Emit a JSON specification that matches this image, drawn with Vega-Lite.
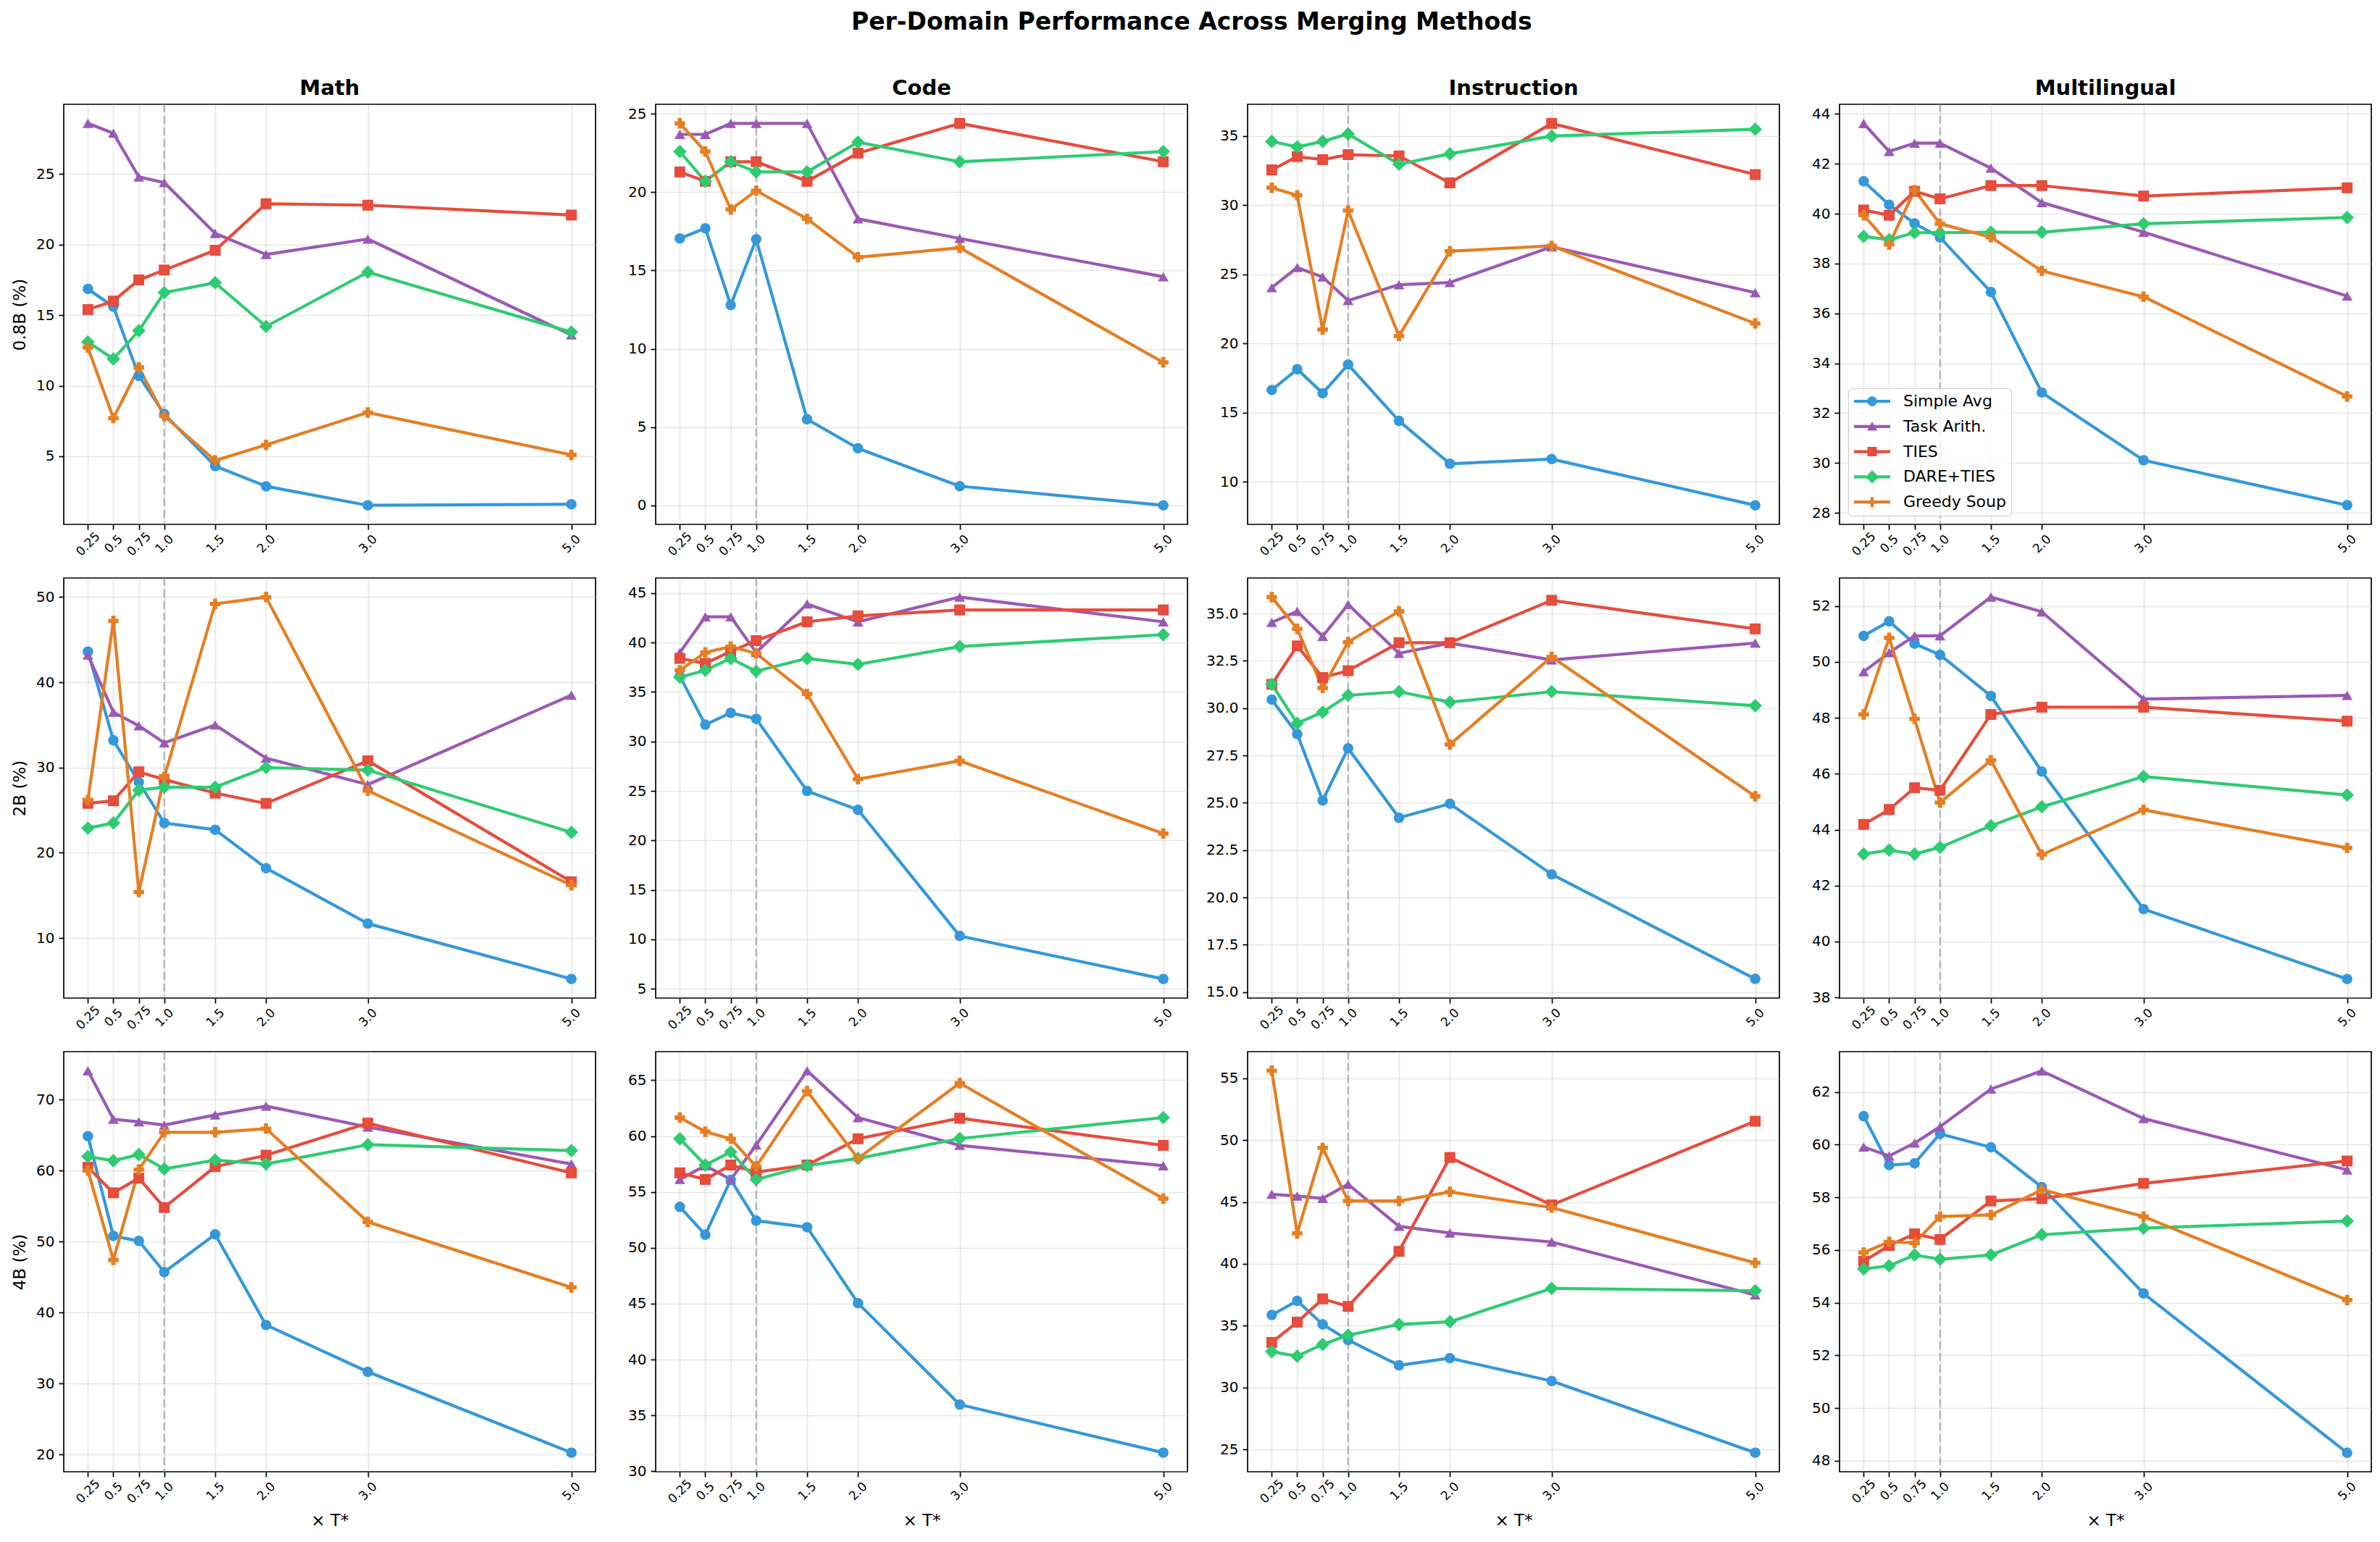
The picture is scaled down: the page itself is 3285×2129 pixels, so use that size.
{
  "$schema": "https://vega.github.io/schema/vega-lite/v6.json",
  "background": "white",
  "padding": {"top": 14, "left": 15, "right": 10, "bottom": 10},
  "title": {
    "text": "Per-Domain Performance Across Merging Methods",
    "fontSize": 33,
    "fontWeight": "bold",
    "font": "DejaVu Sans",
    "color": "black",
    "anchor": "middle",
    "frame": "bounds",
    "offset": 59
  },
  "datasets": {
    "math_08b": [
      {"method": "Simple Avg", "t": 0.25, "score": 16.86}, {"method": "Simple Avg", "t": 0.5, "score": 15.6}, {"method": "Simple Avg", "t": 0.75, "score": 10.7}, {"method": "Simple Avg", "t": 1.0, "score": 7.99}, {"method": "Simple Avg", "t": 1.5, "score": 4.3}, {"method": "Simple Avg", "t": 2.0, "score": 2.87}, {"method": "Simple Avg", "t": 3.0, "score": 1.52}, {"method": "Simple Avg", "t": 5.0, "score": 1.6},
      {"method": "Task Arith.", "t": 0.25, "score": 28.6}, {"method": "Task Arith.", "t": 0.5, "score": 27.9}, {"method": "Task Arith.", "t": 0.75, "score": 24.8}, {"method": "Task Arith.", "t": 1.0, "score": 24.4}, {"method": "Task Arith.", "t": 1.5, "score": 20.8}, {"method": "Task Arith.", "t": 2.0, "score": 19.3}, {"method": "Task Arith.", "t": 3.0, "score": 20.4}, {"method": "Task Arith.", "t": 5.0, "score": 13.6},
      {"method": "TIES", "t": 0.25, "score": 15.4}, {"method": "TIES", "t": 0.5, "score": 16.0}, {"method": "TIES", "t": 0.75, "score": 17.5}, {"method": "TIES", "t": 1.0, "score": 18.2}, {"method": "TIES", "t": 1.5, "score": 19.6}, {"method": "TIES", "t": 2.0, "score": 22.9}, {"method": "TIES", "t": 3.0, "score": 22.8}, {"method": "TIES", "t": 5.0, "score": 22.1},
      {"method": "DARE+TIES", "t": 0.25, "score": 13.1}, {"method": "DARE+TIES", "t": 0.5, "score": 11.9}, {"method": "DARE+TIES", "t": 0.75, "score": 13.9}, {"method": "DARE+TIES", "t": 1.0, "score": 16.6}, {"method": "DARE+TIES", "t": 1.5, "score": 17.3}, {"method": "DARE+TIES", "t": 2.0, "score": 14.2}, {"method": "DARE+TIES", "t": 3.0, "score": 18.05}, {"method": "DARE+TIES", "t": 5.0, "score": 13.8},
      {"method": "Greedy Soup", "t": 0.25, "score": 12.7}, {"method": "Greedy Soup", "t": 0.5, "score": 7.7}, {"method": "Greedy Soup", "t": 0.75, "score": 11.3}, {"method": "Greedy Soup", "t": 1.0, "score": 7.85}, {"method": "Greedy Soup", "t": 1.5, "score": 4.7}, {"method": "Greedy Soup", "t": 2.0, "score": 5.8}, {"method": "Greedy Soup", "t": 3.0, "score": 8.1}, {"method": "Greedy Soup", "t": 5.0, "score": 5.1}
    ],
    "code_08b": [
      {"method": "Simple Avg", "t": 0.25, "score": 17.05}, {"method": "Simple Avg", "t": 0.5, "score": 17.7}, {"method": "Simple Avg", "t": 0.75, "score": 12.8}, {"method": "Simple Avg", "t": 1.0, "score": 17.0}, {"method": "Simple Avg", "t": 1.5, "score": 5.5}, {"method": "Simple Avg", "t": 2.0, "score": 3.64}, {"method": "Simple Avg", "t": 3.0, "score": 1.22}, {"method": "Simple Avg", "t": 5.0, "score": 0.0},
      {"method": "Task Arith.", "t": 0.25, "score": 23.7}, {"method": "Task Arith.", "t": 0.5, "score": 23.7}, {"method": "Task Arith.", "t": 0.75, "score": 24.4}, {"method": "Task Arith.", "t": 1.0, "score": 24.4}, {"method": "Task Arith.", "t": 1.5, "score": 24.4}, {"method": "Task Arith.", "t": 2.0, "score": 18.3}, {"method": "Task Arith.", "t": 3.0, "score": 17.05}, {"method": "Task Arith.", "t": 5.0, "score": 14.6},
      {"method": "TIES", "t": 0.25, "score": 21.3}, {"method": "TIES", "t": 0.5, "score": 20.7}, {"method": "TIES", "t": 0.75, "score": 21.95}, {"method": "TIES", "t": 1.0, "score": 21.95}, {"method": "TIES", "t": 1.5, "score": 20.7}, {"method": "TIES", "t": 2.0, "score": 22.5}, {"method": "TIES", "t": 3.0, "score": 24.4}, {"method": "TIES", "t": 5.0, "score": 21.95},
      {"method": "DARE+TIES", "t": 0.25, "score": 22.6}, {"method": "DARE+TIES", "t": 0.5, "score": 20.7}, {"method": "DARE+TIES", "t": 0.75, "score": 21.95}, {"method": "DARE+TIES", "t": 1.0, "score": 21.3}, {"method": "DARE+TIES", "t": 1.5, "score": 21.3}, {"method": "DARE+TIES", "t": 2.0, "score": 23.2}, {"method": "DARE+TIES", "t": 3.0, "score": 21.95}, {"method": "DARE+TIES", "t": 5.0, "score": 22.6},
      {"method": "Greedy Soup", "t": 0.25, "score": 24.4}, {"method": "Greedy Soup", "t": 0.5, "score": 22.6}, {"method": "Greedy Soup", "t": 0.75, "score": 18.9}, {"method": "Greedy Soup", "t": 1.0, "score": 20.1}, {"method": "Greedy Soup", "t": 1.5, "score": 18.3}, {"method": "Greedy Soup", "t": 2.0, "score": 15.85}, {"method": "Greedy Soup", "t": 3.0, "score": 16.45}, {"method": "Greedy Soup", "t": 5.0, "score": 9.13}
    ],
    "instr_08b": [
      {"method": "Simple Avg", "t": 0.25, "score": 16.63}, {"method": "Simple Avg", "t": 0.5, "score": 18.13}, {"method": "Simple Avg", "t": 0.75, "score": 16.4}, {"method": "Simple Avg", "t": 1.0, "score": 18.47}, {"method": "Simple Avg", "t": 1.5, "score": 14.4}, {"method": "Simple Avg", "t": 2.0, "score": 11.3}, {"method": "Simple Avg", "t": 3.0, "score": 11.64}, {"method": "Simple Avg", "t": 5.0, "score": 8.3},
      {"method": "Task Arith.", "t": 0.25, "score": 24.03}, {"method": "Task Arith.", "t": 0.5, "score": 25.48}, {"method": "Task Arith.", "t": 0.75, "score": 24.8}, {"method": "Task Arith.", "t": 1.0, "score": 23.1}, {"method": "Task Arith.", "t": 1.5, "score": 24.24}, {"method": "Task Arith.", "t": 2.0, "score": 24.4}, {"method": "Task Arith.", "t": 3.0, "score": 26.98}, {"method": "Task Arith.", "t": 5.0, "score": 23.67},
      {"method": "TIES", "t": 0.25, "score": 32.54}, {"method": "TIES", "t": 0.5, "score": 33.5}, {"method": "TIES", "t": 0.75, "score": 33.28}, {"method": "TIES", "t": 1.0, "score": 33.64}, {"method": "TIES", "t": 1.5, "score": 33.55}, {"method": "TIES", "t": 2.0, "score": 31.6}, {"method": "TIES", "t": 3.0, "score": 35.9}, {"method": "TIES", "t": 5.0, "score": 32.2},
      {"method": "DARE+TIES", "t": 0.25, "score": 34.6}, {"method": "DARE+TIES", "t": 0.5, "score": 34.2}, {"method": "DARE+TIES", "t": 0.75, "score": 34.6}, {"method": "DARE+TIES", "t": 1.0, "score": 35.14}, {"method": "DARE+TIES", "t": 1.5, "score": 32.95}, {"method": "DARE+TIES", "t": 2.0, "score": 33.7}, {"method": "DARE+TIES", "t": 3.0, "score": 34.98}, {"method": "DARE+TIES", "t": 5.0, "score": 35.48},
      {"method": "Greedy Soup", "t": 0.25, "score": 31.25}, {"method": "Greedy Soup", "t": 0.5, "score": 30.7}, {"method": "Greedy Soup", "t": 0.75, "score": 21.0}, {"method": "Greedy Soup", "t": 1.0, "score": 29.6}, {"method": "Greedy Soup", "t": 1.5, "score": 20.54}, {"method": "Greedy Soup", "t": 2.0, "score": 26.66}, {"method": "Greedy Soup", "t": 3.0, "score": 27.05}, {"method": "Greedy Soup", "t": 5.0, "score": 21.44}
    ],
    "multi_08b": [
      {"method": "Simple Avg", "t": 0.25, "score": 41.3}, {"method": "Simple Avg", "t": 0.5, "score": 40.36}, {"method": "Simple Avg", "t": 0.75, "score": 39.61}, {"method": "Simple Avg", "t": 1.0, "score": 39.05}, {"method": "Simple Avg", "t": 1.5, "score": 36.86}, {"method": "Simple Avg", "t": 2.0, "score": 32.83}, {"method": "Simple Avg", "t": 3.0, "score": 30.11}, {"method": "Simple Avg", "t": 5.0, "score": 28.31},
      {"method": "Task Arith.", "t": 0.25, "score": 43.62}, {"method": "Task Arith.", "t": 0.5, "score": 42.5}, {"method": "Task Arith.", "t": 0.75, "score": 42.83}, {"method": "Task Arith.", "t": 1.0, "score": 42.83}, {"method": "Task Arith.", "t": 1.5, "score": 41.83}, {"method": "Task Arith.", "t": 2.0, "score": 40.45}, {"method": "Task Arith.", "t": 3.0, "score": 39.26}, {"method": "Task Arith.", "t": 5.0, "score": 36.7},
      {"method": "TIES", "t": 0.25, "score": 40.15}, {"method": "TIES", "t": 0.5, "score": 39.94}, {"method": "TIES", "t": 0.75, "score": 40.9}, {"method": "TIES", "t": 1.0, "score": 40.6}, {"method": "TIES", "t": 1.5, "score": 41.13}, {"method": "TIES", "t": 2.0, "score": 41.13}, {"method": "TIES", "t": 3.0, "score": 40.71}, {"method": "TIES", "t": 5.0, "score": 41.04},
      {"method": "DARE+TIES", "t": 0.25, "score": 39.09}, {"method": "DARE+TIES", "t": 0.5, "score": 38.96}, {"method": "DARE+TIES", "t": 0.75, "score": 39.24}, {"method": "DARE+TIES", "t": 1.0, "score": 39.24}, {"method": "DARE+TIES", "t": 1.5, "score": 39.26}, {"method": "DARE+TIES", "t": 2.0, "score": 39.26}, {"method": "DARE+TIES", "t": 3.0, "score": 39.6}, {"method": "DARE+TIES", "t": 5.0, "score": 39.85},
      {"method": "Greedy Soup", "t": 0.25, "score": 39.94}, {"method": "Greedy Soup", "t": 0.5, "score": 38.77}, {"method": "Greedy Soup", "t": 0.75, "score": 40.94}, {"method": "Greedy Soup", "t": 1.0, "score": 39.6}, {"method": "Greedy Soup", "t": 1.5, "score": 39.06}, {"method": "Greedy Soup", "t": 2.0, "score": 37.71}, {"method": "Greedy Soup", "t": 3.0, "score": 36.67}, {"method": "Greedy Soup", "t": 5.0, "score": 32.67}
    ],
    "math_2b": [
      {"method": "Simple Avg", "t": 0.25, "score": 43.6}, {"method": "Simple Avg", "t": 0.5, "score": 33.2}, {"method": "Simple Avg", "t": 0.75, "score": 28.3}, {"method": "Simple Avg", "t": 1.0, "score": 23.5}, {"method": "Simple Avg", "t": 1.5, "score": 22.7}, {"method": "Simple Avg", "t": 2.0, "score": 18.2}, {"method": "Simple Avg", "t": 3.0, "score": 11.7}, {"method": "Simple Avg", "t": 5.0, "score": 5.2},
      {"method": "Task Arith.", "t": 0.25, "score": 43.2}, {"method": "Task Arith.", "t": 0.5, "score": 36.5}, {"method": "Task Arith.", "t": 0.75, "score": 34.9}, {"method": "Task Arith.", "t": 1.0, "score": 32.9}, {"method": "Task Arith.", "t": 1.5, "score": 35.0}, {"method": "Task Arith.", "t": 2.0, "score": 31.1}, {"method": "Task Arith.", "t": 3.0, "score": 28.0}, {"method": "Task Arith.", "t": 5.0, "score": 38.5},
      {"method": "TIES", "t": 0.25, "score": 25.8}, {"method": "TIES", "t": 0.5, "score": 26.1}, {"method": "TIES", "t": 0.75, "score": 29.5}, {"method": "TIES", "t": 1.0, "score": 28.6}, {"method": "TIES", "t": 1.5, "score": 27.0}, {"method": "TIES", "t": 2.0, "score": 25.8}, {"method": "TIES", "t": 3.0, "score": 30.8}, {"method": "TIES", "t": 5.0, "score": 16.6},
      {"method": "DARE+TIES", "t": 0.25, "score": 22.9}, {"method": "DARE+TIES", "t": 0.5, "score": 23.5}, {"method": "DARE+TIES", "t": 0.75, "score": 27.35}, {"method": "DARE+TIES", "t": 1.0, "score": 27.7}, {"method": "DARE+TIES", "t": 1.5, "score": 27.7}, {"method": "DARE+TIES", "t": 2.0, "score": 30.0}, {"method": "DARE+TIES", "t": 3.0, "score": 29.7}, {"method": "DARE+TIES", "t": 5.0, "score": 22.4},
      {"method": "Greedy Soup", "t": 0.25, "score": 26.2}, {"method": "Greedy Soup", "t": 0.5, "score": 47.2}, {"method": "Greedy Soup", "t": 0.75, "score": 15.4}, {"method": "Greedy Soup", "t": 1.0, "score": 28.9}, {"method": "Greedy Soup", "t": 1.5, "score": 49.2}, {"method": "Greedy Soup", "t": 2.0, "score": 50.0}, {"method": "Greedy Soup", "t": 3.0, "score": 27.3}, {"method": "Greedy Soup", "t": 5.0, "score": 16.2}
    ],
    "code_2b": [
      {"method": "Simple Avg", "t": 0.25, "score": 36.6}, {"method": "Simple Avg", "t": 0.5, "score": 31.7}, {"method": "Simple Avg", "t": 0.75, "score": 32.9}, {"method": "Simple Avg", "t": 1.0, "score": 32.3}, {"method": "Simple Avg", "t": 1.5, "score": 25.0}, {"method": "Simple Avg", "t": 2.0, "score": 23.1}, {"method": "Simple Avg", "t": 3.0, "score": 10.35}, {"method": "Simple Avg", "t": 5.0, "score": 6.0},
      {"method": "Task Arith.", "t": 0.25, "score": 39.0}, {"method": "Task Arith.", "t": 0.5, "score": 42.6}, {"method": "Task Arith.", "t": 0.75, "score": 42.6}, {"method": "Task Arith.", "t": 1.0, "score": 39.0}, {"method": "Task Arith.", "t": 1.5, "score": 43.9}, {"method": "Task Arith.", "t": 2.0, "score": 42.1}, {"method": "Task Arith.", "t": 3.0, "score": 44.6}, {"method": "Task Arith.", "t": 5.0, "score": 42.1},
      {"method": "TIES", "t": 0.25, "score": 38.4}, {"method": "TIES", "t": 0.5, "score": 37.9}, {"method": "TIES", "t": 0.75, "score": 39.1}, {"method": "TIES", "t": 1.0, "score": 40.2}, {"method": "TIES", "t": 1.5, "score": 42.1}, {"method": "TIES", "t": 2.0, "score": 42.7}, {"method": "TIES", "t": 3.0, "score": 43.3}, {"method": "TIES", "t": 5.0, "score": 43.3},
      {"method": "DARE+TIES", "t": 0.25, "score": 36.5}, {"method": "DARE+TIES", "t": 0.5, "score": 37.2}, {"method": "DARE+TIES", "t": 0.75, "score": 38.4}, {"method": "DARE+TIES", "t": 1.0, "score": 37.1}, {"method": "DARE+TIES", "t": 1.5, "score": 38.4}, {"method": "DARE+TIES", "t": 2.0, "score": 37.8}, {"method": "DARE+TIES", "t": 3.0, "score": 39.6}, {"method": "DARE+TIES", "t": 5.0, "score": 40.8},
      {"method": "Greedy Soup", "t": 0.25, "score": 37.2}, {"method": "Greedy Soup", "t": 0.5, "score": 39.0}, {"method": "Greedy Soup", "t": 0.75, "score": 39.6}, {"method": "Greedy Soup", "t": 1.0, "score": 38.9}, {"method": "Greedy Soup", "t": 1.5, "score": 34.8}, {"method": "Greedy Soup", "t": 2.0, "score": 26.2}, {"method": "Greedy Soup", "t": 3.0, "score": 28.05}, {"method": "Greedy Soup", "t": 5.0, "score": 20.7}
    ],
    "instr_2b": [
      {"method": "Simple Avg", "t": 0.25, "score": 30.45}, {"method": "Simple Avg", "t": 0.5, "score": 28.63}, {"method": "Simple Avg", "t": 0.75, "score": 25.12}, {"method": "Simple Avg", "t": 1.0, "score": 27.88}, {"method": "Simple Avg", "t": 1.5, "score": 24.21}, {"method": "Simple Avg", "t": 2.0, "score": 24.95}, {"method": "Simple Avg", "t": 3.0, "score": 21.22}, {"method": "Simple Avg", "t": 5.0, "score": 15.69},
      {"method": "Task Arith.", "t": 0.25, "score": 34.53}, {"method": "Task Arith.", "t": 0.5, "score": 35.12}, {"method": "Task Arith.", "t": 0.75, "score": 33.8}, {"method": "Task Arith.", "t": 1.0, "score": 35.48}, {"method": "Task Arith.", "t": 1.5, "score": 32.9}, {"method": "Task Arith.", "t": 2.0, "score": 33.44}, {"method": "Task Arith.", "t": 3.0, "score": 32.55}, {"method": "Task Arith.", "t": 5.0, "score": 33.44},
      {"method": "TIES", "t": 0.25, "score": 31.26}, {"method": "TIES", "t": 0.5, "score": 33.29}, {"method": "TIES", "t": 0.75, "score": 31.62}, {"method": "TIES", "t": 1.0, "score": 31.98}, {"method": "TIES", "t": 1.5, "score": 33.46}, {"method": "TIES", "t": 2.0, "score": 33.46}, {"method": "TIES", "t": 3.0, "score": 35.7}, {"method": "TIES", "t": 5.0, "score": 34.19},
      {"method": "DARE+TIES", "t": 0.25, "score": 31.26}, {"method": "DARE+TIES", "t": 0.5, "score": 29.2}, {"method": "DARE+TIES", "t": 0.75, "score": 29.79}, {"method": "DARE+TIES", "t": 1.0, "score": 30.68}, {"method": "DARE+TIES", "t": 1.5, "score": 30.87}, {"method": "DARE+TIES", "t": 2.0, "score": 30.32}, {"method": "DARE+TIES", "t": 3.0, "score": 30.87}, {"method": "DARE+TIES", "t": 5.0, "score": 30.13},
      {"method": "Greedy Soup", "t": 0.25, "score": 35.87}, {"method": "Greedy Soup", "t": 0.5, "score": 34.19}, {"method": "Greedy Soup", "t": 0.75, "score": 31.07}, {"method": "Greedy Soup", "t": 1.0, "score": 33.49}, {"method": "Greedy Soup", "t": 1.5, "score": 35.12}, {"method": "Greedy Soup", "t": 2.0, "score": 28.08}, {"method": "Greedy Soup", "t": 3.0, "score": 32.71}, {"method": "Greedy Soup", "t": 5.0, "score": 25.34}
    ],
    "multi_2b": [
      {"method": "Simple Avg", "t": 0.25, "score": 50.93}, {"method": "Simple Avg", "t": 0.5, "score": 51.45}, {"method": "Simple Avg", "t": 0.75, "score": 50.65}, {"method": "Simple Avg", "t": 1.0, "score": 50.25}, {"method": "Simple Avg", "t": 1.5, "score": 48.78}, {"method": "Simple Avg", "t": 2.0, "score": 46.08}, {"method": "Simple Avg", "t": 3.0, "score": 41.16}, {"method": "Simple Avg", "t": 5.0, "score": 38.66},
      {"method": "Task Arith.", "t": 0.25, "score": 49.65}, {"method": "Task Arith.", "t": 0.5, "score": 50.33}, {"method": "Task Arith.", "t": 0.75, "score": 50.93}, {"method": "Task Arith.", "t": 1.0, "score": 50.93}, {"method": "Task Arith.", "t": 1.5, "score": 52.32}, {"method": "Task Arith.", "t": 2.0, "score": 51.79}, {"method": "Task Arith.", "t": 3.0, "score": 48.67}, {"method": "Task Arith.", "t": 5.0, "score": 48.8},
      {"method": "TIES", "t": 0.25, "score": 44.19}, {"method": "TIES", "t": 0.5, "score": 44.72}, {"method": "TIES", "t": 0.75, "score": 45.5}, {"method": "TIES", "t": 1.0, "score": 45.41}, {"method": "TIES", "t": 1.5, "score": 48.12}, {"method": "TIES", "t": 2.0, "score": 48.38}, {"method": "TIES", "t": 3.0, "score": 48.38}, {"method": "TIES", "t": 5.0, "score": 47.88},
      {"method": "DARE+TIES", "t": 0.25, "score": 43.13}, {"method": "DARE+TIES", "t": 0.5, "score": 43.27}, {"method": "DARE+TIES", "t": 0.75, "score": 43.13}, {"method": "DARE+TIES", "t": 1.0, "score": 43.37}, {"method": "DARE+TIES", "t": 1.5, "score": 44.14}, {"method": "DARE+TIES", "t": 2.0, "score": 44.82}, {"method": "DARE+TIES", "t": 3.0, "score": 45.9}, {"method": "DARE+TIES", "t": 5.0, "score": 45.24},
      {"method": "Greedy Soup", "t": 0.25, "score": 48.12}, {"method": "Greedy Soup", "t": 0.5, "score": 50.86}, {"method": "Greedy Soup", "t": 0.75, "score": 47.96}, {"method": "Greedy Soup", "t": 1.0, "score": 44.97}, {"method": "Greedy Soup", "t": 1.5, "score": 46.48}, {"method": "Greedy Soup", "t": 2.0, "score": 43.11}, {"method": "Greedy Soup", "t": 3.0, "score": 44.71}, {"method": "Greedy Soup", "t": 5.0, "score": 43.35}
    ],
    "math_4b": [
      {"method": "Simple Avg", "t": 0.25, "score": 64.84}, {"method": "Simple Avg", "t": 0.5, "score": 50.78}, {"method": "Simple Avg", "t": 0.75, "score": 50.08}, {"method": "Simple Avg", "t": 1.0, "score": 45.7}, {"method": "Simple Avg", "t": 1.5, "score": 51.0}, {"method": "Simple Avg", "t": 2.0, "score": 38.23}, {"method": "Simple Avg", "t": 3.0, "score": 31.64}, {"method": "Simple Avg", "t": 5.0, "score": 20.25},
      {"method": "Task Arith.", "t": 0.25, "score": 74.06}, {"method": "Task Arith.", "t": 0.5, "score": 67.23}, {"method": "Task Arith.", "t": 0.75, "score": 66.86}, {"method": "Task Arith.", "t": 1.0, "score": 66.4}, {"method": "Task Arith.", "t": 1.5, "score": 67.83}, {"method": "Task Arith.", "t": 2.0, "score": 69.08}, {"method": "Task Arith.", "t": 3.0, "score": 66.13}, {"method": "Task Arith.", "t": 5.0, "score": 60.92},
      {"method": "TIES", "t": 0.25, "score": 60.46}, {"method": "TIES", "t": 0.5, "score": 56.86}, {"method": "TIES", "t": 0.75, "score": 58.93}, {"method": "TIES", "t": 1.0, "score": 54.79}, {"method": "TIES", "t": 1.5, "score": 60.55}, {"method": "TIES", "t": 2.0, "score": 62.16}, {"method": "TIES", "t": 3.0, "score": 66.68}, {"method": "TIES", "t": 5.0, "score": 59.67},
      {"method": "DARE+TIES", "t": 0.25, "score": 61.98}, {"method": "DARE+TIES", "t": 0.5, "score": 61.38}, {"method": "DARE+TIES", "t": 0.75, "score": 62.25}, {"method": "DARE+TIES", "t": 1.0, "score": 60.23}, {"method": "DARE+TIES", "t": 1.5, "score": 61.47}, {"method": "DARE+TIES", "t": 2.0, "score": 60.92}, {"method": "DARE+TIES", "t": 3.0, "score": 63.64}, {"method": "DARE+TIES", "t": 5.0, "score": 62.81},
      {"method": "Greedy Soup", "t": 0.25, "score": 60.0}, {"method": "Greedy Soup", "t": 0.5, "score": 47.41}, {"method": "Greedy Soup", "t": 0.75, "score": 60.13}, {"method": "Greedy Soup", "t": 1.0, "score": 65.39}, {"method": "Greedy Soup", "t": 1.5, "score": 65.39}, {"method": "Greedy Soup", "t": 2.0, "score": 65.9}, {"method": "Greedy Soup", "t": 3.0, "score": 52.76}, {"method": "Greedy Soup", "t": 5.0, "score": 43.54}
    ],
    "code_4b": [
      {"method": "Simple Avg", "t": 0.25, "score": 53.66}, {"method": "Simple Avg", "t": 0.5, "score": 51.17}, {"method": "Simple Avg", "t": 0.75, "score": 56.09}, {"method": "Simple Avg", "t": 1.0, "score": 52.43}, {"method": "Simple Avg", "t": 1.5, "score": 51.84}, {"method": "Simple Avg", "t": 2.0, "score": 45.05}, {"method": "Simple Avg", "t": 3.0, "score": 35.96}, {"method": "Simple Avg", "t": 5.0, "score": 31.66},
      {"method": "Task Arith.", "t": 0.25, "score": 56.12}, {"method": "Task Arith.", "t": 0.5, "score": 57.35}, {"method": "Task Arith.", "t": 0.75, "score": 56.12}, {"method": "Task Arith.", "t": 1.0, "score": 59.2}, {"method": "Task Arith.", "t": 1.5, "score": 65.85}, {"method": "Task Arith.", "t": 2.0, "score": 61.66}, {"method": "Task Arith.", "t": 3.0, "score": 59.17}, {"method": "Task Arith.", "t": 5.0, "score": 57.35},
      {"method": "TIES", "t": 0.25, "score": 56.71}, {"method": "TIES", "t": 0.5, "score": 56.12}, {"method": "TIES", "t": 0.75, "score": 57.41}, {"method": "TIES", "t": 1.0, "score": 56.77}, {"method": "TIES", "t": 1.5, "score": 57.41}, {"method": "TIES", "t": 2.0, "score": 59.76}, {"method": "TIES", "t": 3.0, "score": 61.6}, {"method": "TIES", "t": 5.0, "score": 59.17},
      {"method": "DARE+TIES", "t": 0.25, "score": 59.76}, {"method": "DARE+TIES", "t": 0.5, "score": 57.41}, {"method": "DARE+TIES", "t": 0.75, "score": 58.58}, {"method": "DARE+TIES", "t": 1.0, "score": 56.12}, {"method": "DARE+TIES", "t": 1.5, "score": 57.35}, {"method": "DARE+TIES", "t": 2.0, "score": 58.0}, {"method": "DARE+TIES", "t": 3.0, "score": 59.78}, {"method": "DARE+TIES", "t": 5.0, "score": 61.66},
      {"method": "Greedy Soup", "t": 0.25, "score": 61.66}, {"method": "Greedy Soup", "t": 0.5, "score": 60.4}, {"method": "Greedy Soup", "t": 0.75, "score": 59.76}, {"method": "Greedy Soup", "t": 1.0, "score": 57.29}, {"method": "Greedy Soup", "t": 1.5, "score": 64.03}, {"method": "Greedy Soup", "t": 2.0, "score": 58.0}, {"method": "Greedy Soup", "t": 3.0, "score": 64.74}, {"method": "Greedy Soup", "t": 5.0, "score": 54.4}
    ],
    "instr_4b": [
      {"method": "Simple Avg", "t": 0.25, "score": 35.87}, {"method": "Simple Avg", "t": 0.5, "score": 37.01}, {"method": "Simple Avg", "t": 0.75, "score": 35.11}, {"method": "Simple Avg", "t": 1.0, "score": 33.84}, {"method": "Simple Avg", "t": 1.5, "score": 31.8}, {"method": "Simple Avg", "t": 2.0, "score": 32.38}, {"method": "Simple Avg", "t": 3.0, "score": 30.53}, {"method": "Simple Avg", "t": 5.0, "score": 24.74},
      {"method": "Task Arith.", "t": 0.25, "score": 45.63}, {"method": "Task Arith.", "t": 0.5, "score": 45.48}, {"method": "Task Arith.", "t": 0.75, "score": 45.29}, {"method": "Task Arith.", "t": 1.0, "score": 46.43}, {"method": "Task Arith.", "t": 1.5, "score": 43.04}, {"method": "Task Arith.", "t": 2.0, "score": 42.49}, {"method": "Task Arith.", "t": 3.0, "score": 41.77}, {"method": "Task Arith.", "t": 5.0, "score": 37.49},
      {"method": "TIES", "t": 0.25, "score": 33.65}, {"method": "TIES", "t": 0.5, "score": 35.29}, {"method": "TIES", "t": 0.75, "score": 37.17}, {"method": "TIES", "t": 1.0, "score": 36.56}, {"method": "TIES", "t": 1.5, "score": 41.01}, {"method": "TIES", "t": 2.0, "score": 48.6}, {"method": "TIES", "t": 3.0, "score": 44.76}, {"method": "TIES", "t": 5.0, "score": 51.53},
      {"method": "DARE+TIES", "t": 0.25, "score": 32.91}, {"method": "DARE+TIES", "t": 0.5, "score": 32.54}, {"method": "DARE+TIES", "t": 0.75, "score": 33.49}, {"method": "DARE+TIES", "t": 1.0, "score": 34.23}, {"method": "DARE+TIES", "t": 1.5, "score": 35.11}, {"method": "DARE+TIES", "t": 2.0, "score": 35.32}, {"method": "DARE+TIES", "t": 3.0, "score": 38.02}, {"method": "DARE+TIES", "t": 5.0, "score": 37.83},
      {"method": "Greedy Soup", "t": 0.25, "score": 55.61}, {"method": "Greedy Soup", "t": 0.5, "score": 42.46}, {"method": "Greedy Soup", "t": 0.75, "score": 49.37}, {"method": "Greedy Soup", "t": 1.0, "score": 45.08}, {"method": "Greedy Soup", "t": 1.5, "score": 45.08}, {"method": "Greedy Soup", "t": 2.0, "score": 45.82}, {"method": "Greedy Soup", "t": 3.0, "score": 44.55}, {"method": "Greedy Soup", "t": 5.0, "score": 40.08}
    ],
    "multi_4b": [
      {"method": "Simple Avg", "t": 0.25, "score": 61.08}, {"method": "Simple Avg", "t": 0.5, "score": 59.22}, {"method": "Simple Avg", "t": 0.75, "score": 59.29}, {"method": "Simple Avg", "t": 1.0, "score": 60.41}, {"method": "Simple Avg", "t": 1.5, "score": 59.9}, {"method": "Simple Avg", "t": 2.0, "score": 58.39}, {"method": "Simple Avg", "t": 3.0, "score": 54.35}, {"method": "Simple Avg", "t": 5.0, "score": 48.3},
      {"method": "Task Arith.", "t": 0.25, "score": 59.91}, {"method": "Task Arith.", "t": 0.5, "score": 59.57}, {"method": "Task Arith.", "t": 0.75, "score": 60.06}, {"method": "Task Arith.", "t": 1.0, "score": 60.68}, {"method": "Task Arith.", "t": 1.5, "score": 62.11}, {"method": "Task Arith.", "t": 2.0, "score": 62.8}, {"method": "Task Arith.", "t": 3.0, "score": 60.99}, {"method": "Task Arith.", "t": 5.0, "score": 59.04},
      {"method": "TIES", "t": 0.25, "score": 55.57}, {"method": "TIES", "t": 0.5, "score": 56.17}, {"method": "TIES", "t": 0.75, "score": 56.61}, {"method": "TIES", "t": 1.0, "score": 56.4}, {"method": "TIES", "t": 1.5, "score": 57.86}, {"method": "TIES", "t": 2.0, "score": 57.95}, {"method": "TIES", "t": 3.0, "score": 58.53}, {"method": "TIES", "t": 5.0, "score": 59.38},
      {"method": "DARE+TIES", "t": 0.25, "score": 55.28}, {"method": "DARE+TIES", "t": 0.5, "score": 55.4}, {"method": "DARE+TIES", "t": 0.75, "score": 55.81}, {"method": "DARE+TIES", "t": 1.0, "score": 55.65}, {"method": "DARE+TIES", "t": 1.5, "score": 55.81}, {"method": "DARE+TIES", "t": 2.0, "score": 56.58}, {"method": "DARE+TIES", "t": 3.0, "score": 56.83}, {"method": "DARE+TIES", "t": 5.0, "score": 57.1},
      {"method": "Greedy Soup", "t": 0.25, "score": 55.9}, {"method": "Greedy Soup", "t": 0.5, "score": 56.31}, {"method": "Greedy Soup", "t": 0.75, "score": 56.27}, {"method": "Greedy Soup", "t": 1.0, "score": 57.27}, {"method": "Greedy Soup", "t": 1.5, "score": 57.33}, {"method": "Greedy Soup", "t": 2.0, "score": 58.29}, {"method": "Greedy Soup", "t": 3.0, "score": 57.27}, {"method": "Greedy Soup", "t": 5.0, "score": 54.1}
    ]
  },
  "columns": 4,
  "spacing": {"row": 74, "column": 83},
  "bounds": "flush",
  "resolve": {"scale": {"x": "independent", "y": "independent", "color": "independent", "shape": "independent", "size": "independent"}},
  "concat": [
    {
      "width": 734, "height": 580, "title": "Math",
      "encoding": {"x": {"field": "t", "type": "quantitative", "scale": {"domain": [0.0125, 5.2375], "nice": false, "zero": false}, "axis": {"values": [0.25, 0.5, 0.75, 1, 1.5, 2, 3, 5], "labelExpr": "datum.value == 0.25 || datum.value == 0.75 ? format(datum.value, '.2f') : format(datum.value, '.1f')", "labelAngle": -45, "labelAlign": "center", "labelBaseline": "middle", "labelPadding": 20, "labelFontSize": 17, "title": null}}},
      "layer": [
        {"data": {"values": [{"t": 1}]}, "mark": {"type": "rule", "color": "#808080", "opacity": 0.5, "strokeWidth": 2.5, "strokeDash": [11, 5]}, "encoding": {}},
        {"data": {"name": "math_08b"},
         "encoding": {"y": {"field": "score", "type": "quantitative", "scale": {"domain": [0.17, 29.95], "nice": false, "zero": false}, "axis": {"values": [5, 10, 15, 20, 25], "format": "d", "title": "0.8B (%)"}}},
         "layer": [
           {"mark": {"type": "line", "strokeWidth": 4.2, "strokeJoin": "round"}, "encoding": {"color": {"field": "method", "type": "nominal", "scale": {"domain": ["Simple Avg", "Task Arith.", "TIES", "DARE+TIES", "Greedy Soup"], "range": ["#3498db", "#9b59b6", "#e74c3c", "#2ecc71", "#e67e22"]}, "legend": null}}},
           {"mark": {"type": "point", "filled": true, "opacity": 1}, "encoding": {
             "color": {"field": "method", "type": "nominal", "scale": {"domain": ["Simple Avg", "Task Arith.", "TIES", "DARE+TIES", "Greedy Soup"], "range": ["#3498db", "#9b59b6", "#e74c3c", "#2ecc71", "#e67e22"]}, "legend": null},
             "shape": {"field": "method", "type": "nominal", "scale": {"domain": ["Simple Avg", "Task Arith.", "TIES", "DARE+TIES", "Greedy Soup"], "range": ["circle", "triangle-up", "square", "diamond", "cross"]}, "legend": null},
             "size": {"field": "method", "type": "nominal", "scale": {"type": "ordinal", "domain": ["Simple Avg", "Task Arith.", "TIES", "DARE+TIES", "Greedy Soup"], "range": [210, 220, 225, 350, 210]}, "legend": null}}}
         ]}
      ]
    },
    {
      "width": 734, "height": 580, "title": "Code",
      "encoding": {"x": {"field": "t", "type": "quantitative", "scale": {"domain": [0.0125, 5.2375], "nice": false, "zero": false}, "axis": {"values": [0.25, 0.5, 0.75, 1, 1.5, 2, 3, 5], "labelExpr": "datum.value == 0.25 || datum.value == 0.75 ? format(datum.value, '.2f') : format(datum.value, '.1f')", "labelAngle": -45, "labelAlign": "center", "labelBaseline": "middle", "labelPadding": 20, "labelFontSize": 17, "title": null}}},
      "layer": [
        {"data": {"values": [{"t": 1}]}, "mark": {"type": "rule", "color": "#808080", "opacity": 0.5, "strokeWidth": 2.5, "strokeDash": [11, 5]}, "encoding": {}},
        {"data": {"name": "code_08b"},
         "encoding": {"y": {"field": "score", "type": "quantitative", "scale": {"domain": [-1.22, 25.62], "nice": false, "zero": false}, "axis": {"values": [0, 5, 10, 15, 20, 25], "format": "d", "title": null}}},
         "layer": [
           {"mark": {"type": "line", "strokeWidth": 4.2, "strokeJoin": "round"}, "encoding": {"color": {"field": "method", "type": "nominal", "scale": {"domain": ["Simple Avg", "Task Arith.", "TIES", "DARE+TIES", "Greedy Soup"], "range": ["#3498db", "#9b59b6", "#e74c3c", "#2ecc71", "#e67e22"]}, "legend": null}}},
           {"mark": {"type": "point", "filled": true, "opacity": 1}, "encoding": {
             "color": {"field": "method", "type": "nominal", "scale": {"domain": ["Simple Avg", "Task Arith.", "TIES", "DARE+TIES", "Greedy Soup"], "range": ["#3498db", "#9b59b6", "#e74c3c", "#2ecc71", "#e67e22"]}, "legend": null},
             "shape": {"field": "method", "type": "nominal", "scale": {"domain": ["Simple Avg", "Task Arith.", "TIES", "DARE+TIES", "Greedy Soup"], "range": ["circle", "triangle-up", "square", "diamond", "cross"]}, "legend": null},
             "size": {"field": "method", "type": "nominal", "scale": {"type": "ordinal", "domain": ["Simple Avg", "Task Arith.", "TIES", "DARE+TIES", "Greedy Soup"], "range": [210, 220, 225, 350, 210]}, "legend": null}}}
         ]}
      ]
    },
    {
      "width": 734, "height": 580, "title": "Instruction",
      "encoding": {"x": {"field": "t", "type": "quantitative", "scale": {"domain": [0.0125, 5.2375], "nice": false, "zero": false}, "axis": {"values": [0.25, 0.5, 0.75, 1, 1.5, 2, 3, 5], "labelExpr": "datum.value == 0.25 || datum.value == 0.75 ? format(datum.value, '.2f') : format(datum.value, '.1f')", "labelAngle": -45, "labelAlign": "center", "labelBaseline": "middle", "labelPadding": 20, "labelFontSize": 17, "title": null}}},
      "layer": [
        {"data": {"values": [{"t": 1}]}, "mark": {"type": "rule", "color": "#808080", "opacity": 0.5, "strokeWidth": 2.5, "strokeDash": [11, 5]}, "encoding": {}},
        {"data": {"name": "instr_08b"},
         "encoding": {"y": {"field": "score", "type": "quantitative", "scale": {"domain": [6.92, 37.28], "nice": false, "zero": false}, "axis": {"values": [10, 15, 20, 25, 30, 35], "format": "d", "title": null}}},
         "layer": [
           {"mark": {"type": "line", "strokeWidth": 4.2, "strokeJoin": "round"}, "encoding": {"color": {"field": "method", "type": "nominal", "scale": {"domain": ["Simple Avg", "Task Arith.", "TIES", "DARE+TIES", "Greedy Soup"], "range": ["#3498db", "#9b59b6", "#e74c3c", "#2ecc71", "#e67e22"]}, "legend": null}}},
           {"mark": {"type": "point", "filled": true, "opacity": 1}, "encoding": {
             "color": {"field": "method", "type": "nominal", "scale": {"domain": ["Simple Avg", "Task Arith.", "TIES", "DARE+TIES", "Greedy Soup"], "range": ["#3498db", "#9b59b6", "#e74c3c", "#2ecc71", "#e67e22"]}, "legend": null},
             "shape": {"field": "method", "type": "nominal", "scale": {"domain": ["Simple Avg", "Task Arith.", "TIES", "DARE+TIES", "Greedy Soup"], "range": ["circle", "triangle-up", "square", "diamond", "cross"]}, "legend": null},
             "size": {"field": "method", "type": "nominal", "scale": {"type": "ordinal", "domain": ["Simple Avg", "Task Arith.", "TIES", "DARE+TIES", "Greedy Soup"], "range": [210, 220, 225, 350, 210]}, "legend": null}}}
         ]}
      ]
    },
    {
      "width": 734, "height": 580, "title": "Multilingual",
      "encoding": {"x": {"field": "t", "type": "quantitative", "scale": {"domain": [0.0125, 5.2375], "nice": false, "zero": false}, "axis": {"values": [0.25, 0.5, 0.75, 1, 1.5, 2, 3, 5], "labelExpr": "datum.value == 0.25 || datum.value == 0.75 ? format(datum.value, '.2f') : format(datum.value, '.1f')", "labelAngle": -45, "labelAlign": "center", "labelBaseline": "middle", "labelPadding": 20, "labelFontSize": 17, "title": null}}},
      "layer": [
        {"data": {"values": [{"t": 1}]}, "mark": {"type": "rule", "color": "#808080", "opacity": 0.5, "strokeWidth": 2.5, "strokeDash": [11, 5]}, "encoding": {}},
        {"data": {"name": "multi_08b"},
         "encoding": {"y": {"field": "score", "type": "quantitative", "scale": {"domain": [27.54, 44.39], "nice": false, "zero": false}, "axis": {"values": [28, 30, 32, 34, 36, 38, 40, 42, 44], "format": "d", "title": null}}},
         "layer": [
           {"mark": {"type": "line", "strokeWidth": 4.2, "strokeJoin": "round"}, "encoding": {"color": {"field": "method", "type": "nominal", "scale": {"domain": ["Simple Avg", "Task Arith.", "TIES", "DARE+TIES", "Greedy Soup"], "range": ["#3498db", "#9b59b6", "#e74c3c", "#2ecc71", "#e67e22"]},
               "legend": {
                 "orient": "bottom-left", "offset": 12, "title": null,
                 "labelFont": "DejaVu Sans", "labelFontSize": 22, "labelColor": "black",
                 "symbolSize": 400, "symbolOffset": 15, "labelOffset": 32, "rowPadding": 12.8, "padding": 7,
                 "strokeColor": "#cccccc", "fillColor": "rgba(255,255,255,0.8)", "cornerRadius": 5, "symbolStrokeWidth": 0,
                 "encode": {"symbols": {"update": {
                   "size": {"value": 400},
                   "strokeWidth": {"value": 0},
                   "opacity": {"value": 1},
                   "fillOpacity": {"value": 1},
                   "fill": {"signal": "datum.value === 'Simple Avg' ? '#3498db' : datum.value === 'Task Arith.' ? '#9b59b6' : datum.value === 'TIES' ? '#e74c3c' : datum.value === 'DARE+TIES' ? '#2ecc71' : '#e67e22'"},
                   "shape": {"signal": "datum.value === 'Simple Avg' ? 'M-2.5,-0.21H2.5V0.21H-2.5Z M0.68,0A0.68,0.68,0,1,1,-0.68,0A0.68,0.68,0,1,1,0.68,0Z' : datum.value === 'Task Arith.' ? 'M-2.5,-0.21H2.5V0.21H-2.5Z M0,-0.66L0.7,0.56H-0.7Z' : datum.value === 'TIES' ? 'M-2.5,-0.21H2.5V0.21H-2.5Z M-0.65,-0.65H0.65V0.65H-0.65Z' : datum.value === 'DARE+TIES' ? 'M-2.5,-0.21H2.5V0.21H-2.5Z M0,-0.92L0.92,0L0,0.92L-0.92,0Z' : 'M-2.5,-0.21H2.5V0.21H-2.5Z M-0.22,-0.7H0.22V-0.22H0.7V0.22H0.22V0.7H-0.22V0.22H-0.7V-0.22H-0.22Z'"}
                 }}}
               }}}},
           {"mark": {"type": "point", "filled": true, "opacity": 1}, "encoding": {
             "color": {"field": "method", "type": "nominal", "scale": {"domain": ["Simple Avg", "Task Arith.", "TIES", "DARE+TIES", "Greedy Soup"], "range": ["#3498db", "#9b59b6", "#e74c3c", "#2ecc71", "#e67e22"]},
               "legend": {
                 "orient": "bottom-left", "offset": 12, "title": null,
                 "labelFont": "DejaVu Sans", "labelFontSize": 22, "labelColor": "black",
                 "symbolSize": 400, "symbolOffset": 15, "labelOffset": 32, "rowPadding": 12.8, "padding": 7,
                 "strokeColor": "#cccccc", "fillColor": "rgba(255,255,255,0.8)", "cornerRadius": 5, "symbolStrokeWidth": 0,
                 "encode": {"symbols": {"update": {
                   "size": {"value": 400},
                   "strokeWidth": {"value": 0},
                   "opacity": {"value": 1},
                   "fillOpacity": {"value": 1},
                   "fill": {"signal": "datum.value === 'Simple Avg' ? '#3498db' : datum.value === 'Task Arith.' ? '#9b59b6' : datum.value === 'TIES' ? '#e74c3c' : datum.value === 'DARE+TIES' ? '#2ecc71' : '#e67e22'"},
                   "shape": {"signal": "datum.value === 'Simple Avg' ? 'M-2.5,-0.21H2.5V0.21H-2.5Z M0.68,0A0.68,0.68,0,1,1,-0.68,0A0.68,0.68,0,1,1,0.68,0Z' : datum.value === 'Task Arith.' ? 'M-2.5,-0.21H2.5V0.21H-2.5Z M0,-0.66L0.7,0.56H-0.7Z' : datum.value === 'TIES' ? 'M-2.5,-0.21H2.5V0.21H-2.5Z M-0.65,-0.65H0.65V0.65H-0.65Z' : datum.value === 'DARE+TIES' ? 'M-2.5,-0.21H2.5V0.21H-2.5Z M0,-0.92L0.92,0L0,0.92L-0.92,0Z' : 'M-2.5,-0.21H2.5V0.21H-2.5Z M-0.22,-0.7H0.22V-0.22H0.7V0.22H0.22V0.7H-0.22V0.22H-0.7V-0.22H-0.22Z'"}
                 }}}
               }},
             "shape": {"field": "method", "type": "nominal", "scale": {"domain": ["Greedy Soup", "DARE+TIES", "TIES", "Task Arith.", "Simple Avg"], "range": ["cross", "diamond", "square", "triangle-up", "circle"]}, "legend": null},
             "size": {"field": "method", "type": "nominal", "scale": {"type": "ordinal", "domain": ["Greedy Soup", "DARE+TIES", "TIES", "Task Arith.", "Simple Avg"], "range": [210, 350, 225, 220, 210]}, "legend": null}}}
         ]}
      ]
    },
    {
      "width": 734, "height": 580,
      "encoding": {"x": {"field": "t", "type": "quantitative", "scale": {"domain": [0.0125, 5.2375], "nice": false, "zero": false}, "axis": {"values": [0.25, 0.5, 0.75, 1, 1.5, 2, 3, 5], "labelExpr": "datum.value == 0.25 || datum.value == 0.75 ? format(datum.value, '.2f') : format(datum.value, '.1f')", "labelAngle": -45, "labelAlign": "center", "labelBaseline": "middle", "labelPadding": 20, "labelFontSize": 17, "title": null}}},
      "layer": [
        {"data": {"values": [{"t": 1}]}, "mark": {"type": "rule", "color": "#808080", "opacity": 0.5, "strokeWidth": 2.5, "strokeDash": [11, 5]}, "encoding": {}},
        {"data": {"name": "math_2b"},
         "encoding": {"y": {"field": "score", "type": "quantitative", "scale": {"domain": [2.96, 52.24], "nice": false, "zero": false}, "axis": {"values": [10, 20, 30, 40, 50], "format": "d", "title": "2B (%)"}}},
         "layer": [
           {"mark": {"type": "line", "strokeWidth": 4.2, "strokeJoin": "round"}, "encoding": {"color": {"field": "method", "type": "nominal", "scale": {"domain": ["Simple Avg", "Task Arith.", "TIES", "DARE+TIES", "Greedy Soup"], "range": ["#3498db", "#9b59b6", "#e74c3c", "#2ecc71", "#e67e22"]}, "legend": null}}},
           {"mark": {"type": "point", "filled": true, "opacity": 1}, "encoding": {
             "color": {"field": "method", "type": "nominal", "scale": {"domain": ["Simple Avg", "Task Arith.", "TIES", "DARE+TIES", "Greedy Soup"], "range": ["#3498db", "#9b59b6", "#e74c3c", "#2ecc71", "#e67e22"]}, "legend": null},
             "shape": {"field": "method", "type": "nominal", "scale": {"domain": ["Simple Avg", "Task Arith.", "TIES", "DARE+TIES", "Greedy Soup"], "range": ["circle", "triangle-up", "square", "diamond", "cross"]}, "legend": null},
             "size": {"field": "method", "type": "nominal", "scale": {"type": "ordinal", "domain": ["Simple Avg", "Task Arith.", "TIES", "DARE+TIES", "Greedy Soup"], "range": [210, 220, 225, 350, 210]}, "legend": null}}}
         ]}
      ]
    },
    {
      "width": 734, "height": 580,
      "encoding": {"x": {"field": "t", "type": "quantitative", "scale": {"domain": [0.0125, 5.2375], "nice": false, "zero": false}, "axis": {"values": [0.25, 0.5, 0.75, 1, 1.5, 2, 3, 5], "labelExpr": "datum.value == 0.25 || datum.value == 0.75 ? format(datum.value, '.2f') : format(datum.value, '.1f')", "labelAngle": -45, "labelAlign": "center", "labelBaseline": "middle", "labelPadding": 20, "labelFontSize": 17, "title": null}}},
      "layer": [
        {"data": {"values": [{"t": 1}]}, "mark": {"type": "rule", "color": "#808080", "opacity": 0.5, "strokeWidth": 2.5, "strokeDash": [11, 5]}, "encoding": {}},
        {"data": {"name": "code_2b"},
         "encoding": {"y": {"field": "score", "type": "quantitative", "scale": {"domain": [4.07, 46.53], "nice": false, "zero": false}, "axis": {"values": [5, 10, 15, 20, 25, 30, 35, 40, 45], "format": "d", "title": null}}},
         "layer": [
           {"mark": {"type": "line", "strokeWidth": 4.2, "strokeJoin": "round"}, "encoding": {"color": {"field": "method", "type": "nominal", "scale": {"domain": ["Simple Avg", "Task Arith.", "TIES", "DARE+TIES", "Greedy Soup"], "range": ["#3498db", "#9b59b6", "#e74c3c", "#2ecc71", "#e67e22"]}, "legend": null}}},
           {"mark": {"type": "point", "filled": true, "opacity": 1}, "encoding": {
             "color": {"field": "method", "type": "nominal", "scale": {"domain": ["Simple Avg", "Task Arith.", "TIES", "DARE+TIES", "Greedy Soup"], "range": ["#3498db", "#9b59b6", "#e74c3c", "#2ecc71", "#e67e22"]}, "legend": null},
             "shape": {"field": "method", "type": "nominal", "scale": {"domain": ["Simple Avg", "Task Arith.", "TIES", "DARE+TIES", "Greedy Soup"], "range": ["circle", "triangle-up", "square", "diamond", "cross"]}, "legend": null},
             "size": {"field": "method", "type": "nominal", "scale": {"type": "ordinal", "domain": ["Simple Avg", "Task Arith.", "TIES", "DARE+TIES", "Greedy Soup"], "range": [210, 220, 225, 350, 210]}, "legend": null}}}
         ]}
      ]
    },
    {
      "width": 734, "height": 580,
      "encoding": {"x": {"field": "t", "type": "quantitative", "scale": {"domain": [0.0125, 5.2375], "nice": false, "zero": false}, "axis": {"values": [0.25, 0.5, 0.75, 1, 1.5, 2, 3, 5], "labelExpr": "datum.value == 0.25 || datum.value == 0.75 ? format(datum.value, '.2f') : format(datum.value, '.1f')", "labelAngle": -45, "labelAlign": "center", "labelBaseline": "middle", "labelPadding": 20, "labelFontSize": 17, "title": null}}},
      "layer": [
        {"data": {"values": [{"t": 1}]}, "mark": {"type": "rule", "color": "#808080", "opacity": 0.5, "strokeWidth": 2.5, "strokeDash": [11, 5]}, "encoding": {}},
        {"data": {"name": "instr_2b"},
         "encoding": {"y": {"field": "score", "type": "quantitative", "scale": {"domain": [14.68, 36.88], "nice": false, "zero": false}, "axis": {"values": [15, 17.5, 20, 22.5, 25, 27.5, 30, 32.5, 35], "format": ".1f", "title": null}}},
         "layer": [
           {"mark": {"type": "line", "strokeWidth": 4.2, "strokeJoin": "round"}, "encoding": {"color": {"field": "method", "type": "nominal", "scale": {"domain": ["Simple Avg", "Task Arith.", "TIES", "DARE+TIES", "Greedy Soup"], "range": ["#3498db", "#9b59b6", "#e74c3c", "#2ecc71", "#e67e22"]}, "legend": null}}},
           {"mark": {"type": "point", "filled": true, "opacity": 1}, "encoding": {
             "color": {"field": "method", "type": "nominal", "scale": {"domain": ["Simple Avg", "Task Arith.", "TIES", "DARE+TIES", "Greedy Soup"], "range": ["#3498db", "#9b59b6", "#e74c3c", "#2ecc71", "#e67e22"]}, "legend": null},
             "shape": {"field": "method", "type": "nominal", "scale": {"domain": ["Simple Avg", "Task Arith.", "TIES", "DARE+TIES", "Greedy Soup"], "range": ["circle", "triangle-up", "square", "diamond", "cross"]}, "legend": null},
             "size": {"field": "method", "type": "nominal", "scale": {"type": "ordinal", "domain": ["Simple Avg", "Task Arith.", "TIES", "DARE+TIES", "Greedy Soup"], "range": [210, 220, 225, 350, 210]}, "legend": null}}}
         ]}
      ]
    },
    {
      "width": 734, "height": 580,
      "encoding": {"x": {"field": "t", "type": "quantitative", "scale": {"domain": [0.0125, 5.2375], "nice": false, "zero": false}, "axis": {"values": [0.25, 0.5, 0.75, 1, 1.5, 2, 3, 5], "labelExpr": "datum.value == 0.25 || datum.value == 0.75 ? format(datum.value, '.2f') : format(datum.value, '.1f')", "labelAngle": -45, "labelAlign": "center", "labelBaseline": "middle", "labelPadding": 20, "labelFontSize": 17, "title": null}}},
      "layer": [
        {"data": {"values": [{"t": 1}]}, "mark": {"type": "rule", "color": "#808080", "opacity": 0.5, "strokeWidth": 2.5, "strokeDash": [11, 5]}, "encoding": {}},
        {"data": {"name": "multi_2b"},
         "encoding": {"y": {"field": "score", "type": "quantitative", "scale": {"domain": [37.98, 53.0], "nice": false, "zero": false}, "axis": {"values": [38, 40, 42, 44, 46, 48, 50, 52], "format": "d", "title": null}}},
         "layer": [
           {"mark": {"type": "line", "strokeWidth": 4.2, "strokeJoin": "round"}, "encoding": {"color": {"field": "method", "type": "nominal", "scale": {"domain": ["Simple Avg", "Task Arith.", "TIES", "DARE+TIES", "Greedy Soup"], "range": ["#3498db", "#9b59b6", "#e74c3c", "#2ecc71", "#e67e22"]}, "legend": null}}},
           {"mark": {"type": "point", "filled": true, "opacity": 1}, "encoding": {
             "color": {"field": "method", "type": "nominal", "scale": {"domain": ["Simple Avg", "Task Arith.", "TIES", "DARE+TIES", "Greedy Soup"], "range": ["#3498db", "#9b59b6", "#e74c3c", "#2ecc71", "#e67e22"]}, "legend": null},
             "shape": {"field": "method", "type": "nominal", "scale": {"domain": ["Simple Avg", "Task Arith.", "TIES", "DARE+TIES", "Greedy Soup"], "range": ["circle", "triangle-up", "square", "diamond", "cross"]}, "legend": null},
             "size": {"field": "method", "type": "nominal", "scale": {"type": "ordinal", "domain": ["Simple Avg", "Task Arith.", "TIES", "DARE+TIES", "Greedy Soup"], "range": [210, 220, 225, 350, 210]}, "legend": null}}}
         ]}
      ]
    },
    {
      "width": 734, "height": 580,
      "encoding": {"x": {"field": "t", "type": "quantitative", "scale": {"domain": [0.0125, 5.2375], "nice": false, "zero": false}, "axis": {"values": [0.25, 0.5, 0.75, 1, 1.5, 2, 3, 5], "labelExpr": "datum.value == 0.25 || datum.value == 0.75 ? format(datum.value, '.2f') : format(datum.value, '.1f')", "labelAngle": -45, "labelAlign": "center", "labelBaseline": "middle", "labelPadding": 20, "labelFontSize": 17, "title": "× T*"}}},
      "layer": [
        {"data": {"values": [{"t": 1}]}, "mark": {"type": "rule", "color": "#808080", "opacity": 0.5, "strokeWidth": 2.5, "strokeDash": [11, 5]}, "encoding": {}},
        {"data": {"name": "math_4b"},
         "encoding": {"y": {"field": "score", "type": "quantitative", "scale": {"domain": [17.56, 76.75], "nice": false, "zero": false}, "axis": {"values": [20, 30, 40, 50, 60, 70], "format": "d", "title": "4B (%)"}}},
         "layer": [
           {"mark": {"type": "line", "strokeWidth": 4.2, "strokeJoin": "round"}, "encoding": {"color": {"field": "method", "type": "nominal", "scale": {"domain": ["Simple Avg", "Task Arith.", "TIES", "DARE+TIES", "Greedy Soup"], "range": ["#3498db", "#9b59b6", "#e74c3c", "#2ecc71", "#e67e22"]}, "legend": null}}},
           {"mark": {"type": "point", "filled": true, "opacity": 1}, "encoding": {
             "color": {"field": "method", "type": "nominal", "scale": {"domain": ["Simple Avg", "Task Arith.", "TIES", "DARE+TIES", "Greedy Soup"], "range": ["#3498db", "#9b59b6", "#e74c3c", "#2ecc71", "#e67e22"]}, "legend": null},
             "shape": {"field": "method", "type": "nominal", "scale": {"domain": ["Simple Avg", "Task Arith.", "TIES", "DARE+TIES", "Greedy Soup"], "range": ["circle", "triangle-up", "square", "diamond", "cross"]}, "legend": null},
             "size": {"field": "method", "type": "nominal", "scale": {"type": "ordinal", "domain": ["Simple Avg", "Task Arith.", "TIES", "DARE+TIES", "Greedy Soup"], "range": [210, 220, 225, 350, 210]}, "legend": null}}}
         ]}
      ]
    },
    {
      "width": 734, "height": 580,
      "encoding": {"x": {"field": "t", "type": "quantitative", "scale": {"domain": [0.0125, 5.2375], "nice": false, "zero": false}, "axis": {"values": [0.25, 0.5, 0.75, 1, 1.5, 2, 3, 5], "labelExpr": "datum.value == 0.25 || datum.value == 0.75 ? format(datum.value, '.2f') : format(datum.value, '.1f')", "labelAngle": -45, "labelAlign": "center", "labelBaseline": "middle", "labelPadding": 20, "labelFontSize": 17, "title": "× T*"}}},
      "layer": [
        {"data": {"values": [{"t": 1}]}, "mark": {"type": "rule", "color": "#808080", "opacity": 0.5, "strokeWidth": 2.5, "strokeDash": [11, 5]}, "encoding": {}},
        {"data": {"name": "code_4b"},
         "encoding": {"y": {"field": "score", "type": "quantitative", "scale": {"domain": [29.95, 67.56], "nice": false, "zero": false}, "axis": {"values": [30, 35, 40, 45, 50, 55, 60, 65], "format": "d", "title": null}}},
         "layer": [
           {"mark": {"type": "line", "strokeWidth": 4.2, "strokeJoin": "round"}, "encoding": {"color": {"field": "method", "type": "nominal", "scale": {"domain": ["Simple Avg", "Task Arith.", "TIES", "DARE+TIES", "Greedy Soup"], "range": ["#3498db", "#9b59b6", "#e74c3c", "#2ecc71", "#e67e22"]}, "legend": null}}},
           {"mark": {"type": "point", "filled": true, "opacity": 1}, "encoding": {
             "color": {"field": "method", "type": "nominal", "scale": {"domain": ["Simple Avg", "Task Arith.", "TIES", "DARE+TIES", "Greedy Soup"], "range": ["#3498db", "#9b59b6", "#e74c3c", "#2ecc71", "#e67e22"]}, "legend": null},
             "shape": {"field": "method", "type": "nominal", "scale": {"domain": ["Simple Avg", "Task Arith.", "TIES", "DARE+TIES", "Greedy Soup"], "range": ["circle", "triangle-up", "square", "diamond", "cross"]}, "legend": null},
             "size": {"field": "method", "type": "nominal", "scale": {"type": "ordinal", "domain": ["Simple Avg", "Task Arith.", "TIES", "DARE+TIES", "Greedy Soup"], "range": [210, 220, 225, 350, 210]}, "legend": null}}}
         ]}
      ]
    },
    {
      "width": 734, "height": 580,
      "encoding": {"x": {"field": "t", "type": "quantitative", "scale": {"domain": [0.0125, 5.2375], "nice": false, "zero": false}, "axis": {"values": [0.25, 0.5, 0.75, 1, 1.5, 2, 3, 5], "labelExpr": "datum.value == 0.25 || datum.value == 0.75 ? format(datum.value, '.2f') : format(datum.value, '.1f')", "labelAngle": -45, "labelAlign": "center", "labelBaseline": "middle", "labelPadding": 20, "labelFontSize": 17, "title": "× T*"}}},
      "layer": [
        {"data": {"values": [{"t": 1}]}, "mark": {"type": "rule", "color": "#808080", "opacity": 0.5, "strokeWidth": 2.5, "strokeDash": [11, 5]}, "encoding": {}},
        {"data": {"name": "instr_4b"},
         "encoding": {"y": {"field": "score", "type": "quantitative", "scale": {"domain": [23.2, 57.15], "nice": false, "zero": false}, "axis": {"values": [25, 30, 35, 40, 45, 50, 55], "format": "d", "title": null}}},
         "layer": [
           {"mark": {"type": "line", "strokeWidth": 4.2, "strokeJoin": "round"}, "encoding": {"color": {"field": "method", "type": "nominal", "scale": {"domain": ["Simple Avg", "Task Arith.", "TIES", "DARE+TIES", "Greedy Soup"], "range": ["#3498db", "#9b59b6", "#e74c3c", "#2ecc71", "#e67e22"]}, "legend": null}}},
           {"mark": {"type": "point", "filled": true, "opacity": 1}, "encoding": {
             "color": {"field": "method", "type": "nominal", "scale": {"domain": ["Simple Avg", "Task Arith.", "TIES", "DARE+TIES", "Greedy Soup"], "range": ["#3498db", "#9b59b6", "#e74c3c", "#2ecc71", "#e67e22"]}, "legend": null},
             "shape": {"field": "method", "type": "nominal", "scale": {"domain": ["Simple Avg", "Task Arith.", "TIES", "DARE+TIES", "Greedy Soup"], "range": ["circle", "triangle-up", "square", "diamond", "cross"]}, "legend": null},
             "size": {"field": "method", "type": "nominal", "scale": {"type": "ordinal", "domain": ["Simple Avg", "Task Arith.", "TIES", "DARE+TIES", "Greedy Soup"], "range": [210, 220, 225, 350, 210]}, "legend": null}}}
         ]}
      ]
    },
    {
      "width": 734, "height": 580,
      "encoding": {"x": {"field": "t", "type": "quantitative", "scale": {"domain": [0.0125, 5.2375], "nice": false, "zero": false}, "axis": {"values": [0.25, 0.5, 0.75, 1, 1.5, 2, 3, 5], "labelExpr": "datum.value == 0.25 || datum.value == 0.75 ? format(datum.value, '.2f') : format(datum.value, '.1f')", "labelAngle": -45, "labelAlign": "center", "labelBaseline": "middle", "labelPadding": 20, "labelFontSize": 17, "title": "× T*"}}},
      "layer": [
        {"data": {"values": [{"t": 1}]}, "mark": {"type": "rule", "color": "#808080", "opacity": 0.5, "strokeWidth": 2.5, "strokeDash": [11, 5]}, "encoding": {}},
        {"data": {"name": "multi_4b"},
         "encoding": {"y": {"field": "score", "type": "quantitative", "scale": {"domain": [47.58, 63.53], "nice": false, "zero": false}, "axis": {"values": [48, 50, 52, 54, 56, 58, 60, 62], "format": "d", "title": null}}},
         "layer": [
           {"mark": {"type": "line", "strokeWidth": 4.2, "strokeJoin": "round"}, "encoding": {"color": {"field": "method", "type": "nominal", "scale": {"domain": ["Simple Avg", "Task Arith.", "TIES", "DARE+TIES", "Greedy Soup"], "range": ["#3498db", "#9b59b6", "#e74c3c", "#2ecc71", "#e67e22"]}, "legend": null}}},
           {"mark": {"type": "point", "filled": true, "opacity": 1}, "encoding": {
             "color": {"field": "method", "type": "nominal", "scale": {"domain": ["Simple Avg", "Task Arith.", "TIES", "DARE+TIES", "Greedy Soup"], "range": ["#3498db", "#9b59b6", "#e74c3c", "#2ecc71", "#e67e22"]}, "legend": null},
             "shape": {"field": "method", "type": "nominal", "scale": {"domain": ["Simple Avg", "Task Arith.", "TIES", "DARE+TIES", "Greedy Soup"], "range": ["circle", "triangle-up", "square", "diamond", "cross"]}, "legend": null},
             "size": {"field": "method", "type": "nominal", "scale": {"type": "ordinal", "domain": ["Simple Avg", "Task Arith.", "TIES", "DARE+TIES", "Greedy Soup"], "range": [210, 220, 225, 350, 210]}, "legend": null}}}
         ]}
      ]
    }
  ],
  "config": {
    "font": "DejaVu Sans",
    "view": {"stroke": "black", "strokeWidth": 1.7},
    "title": {"font": "DejaVu Sans", "fontSize": 29, "fontWeight": "bold", "color": "black", "offset": 6},
    "axis": {
      "labelFont": "DejaVu Sans", "titleFont": "DejaVu Sans",
      "labelFontSize": 20, "titleFontSize": 23, "titleFontWeight": "normal",
      "labelColor": "black", "titleColor": "black",
      "tickColor": "black", "tickSize": 7, "tickWidth": 1.7,
      "labelPadding": 6, "titlePadding": 10,
      "domain": false,
      "gridColor": "#b0b0b0", "gridOpacity": 0.3, "gridWidth": 1.7,
      "labelFlush": false, "labelOverlap": false
    }
  }
}
